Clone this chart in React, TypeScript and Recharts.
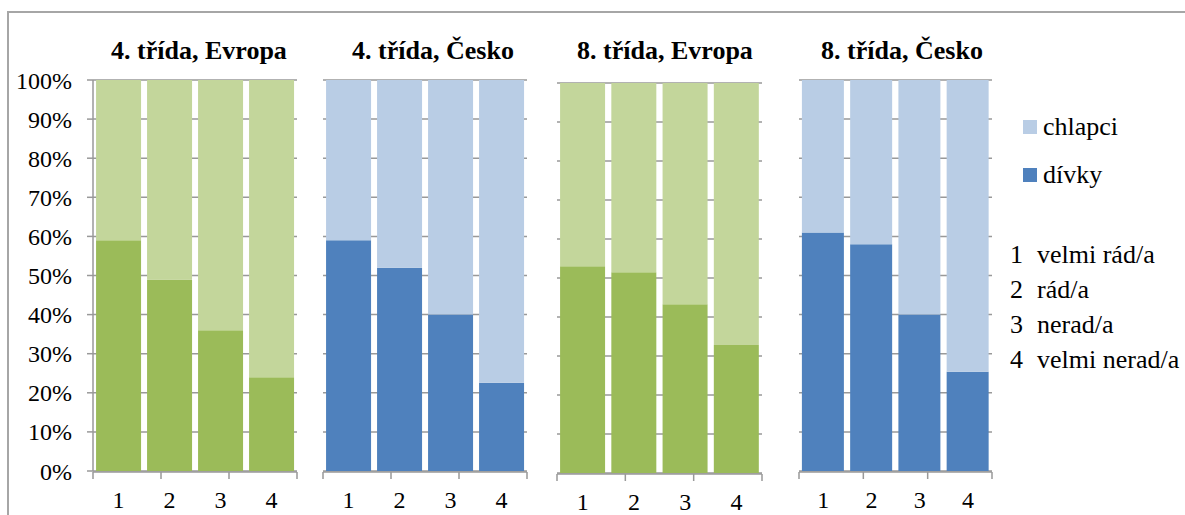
import React from 'react';
import { BarChart, Bar, XAxis, YAxis, CartesianGrid } from 'recharts';

const categories = ['1', '2', '3', '4'];
const divky4Evropa = [59, 49, 36, 24];
const chlapci4Evropa = [41, 51, 64, 76];
const divky4Cesko = [59, 52, 40, 22.6];
const chlapci4Cesko = [41, 48, 60, 77.4];
const divky8Evropa = [53, 51.5, 43.3, 32.8];
const chlapci8Evropa = [47, 48.5, 56.7, 67.2];
const divky8Cesko = [61, 58, 40, 25.4];
const chlapci8Cesko = [39, 42, 60, 74.6];
const yTicks = [0, 10, 20, 30, 40, 50, 60, 70, 80, 90, 100];
const boundaryTicks = [0, 1, 2, 3, 4];
const panelTitles = ['4. třída, Evropa', '4. třída, Česko', '8. třída, Evropa', '8. třída, Česko'];
const seriesNames = ['chlapci', 'dívky'];
const answerLabels = ['velmi rád/a', 'rád/a', 'nerad/a', 'velmi nerad/a'];

const FONT = 'Liberation Serif';
const GRID = '#999999';
const GREEN_DARK = '#9BBB59';
const GREEN_LIGHT = '#C3D69B';
const BLUE_DARK = '#4F81BD';
const BLUE_LIGHT = '#B9CDE5';

type PanelProps = {
  left: number;
  width: number;
  top: number;
  bottom: number;
  mLeft: number;
  mRight: number;
  showY: boolean;
  divky: number[];
  chlapci: number[];
  dark: string;
  light: string;
};

function Panel(p: PanelProps) {
  const data = categories.map((c, i) => ({ cat: c, divky: p.divky[i], chlapci: p.chlapci[i] }));
  return (
    <div style={{ position: 'absolute', left: p.left, top: 0 }}>
      <BarChart
        width={p.width}
        height={515}
        data={data}
        margin={{ top: p.top, right: p.mRight, left: p.mLeft, bottom: p.bottom }}
        barCategoryGap="6%"
      >
        <CartesianGrid horizontal vertical={false} stroke={GRID} strokeWidth={1.5} xAxisId="cat" />
        <XAxis
          xAxisId="num"
          type="number"
          domain={[0, 4]}
          allowDataOverflow
          ticks={boundaryTicks}
          interval={0}
          height={40}
          tickFormatter={() => ''}
          tickSize={7}
          axisLine={{ stroke: GRID, strokeWidth: 1.5 }}
          tickLine={{ stroke: GRID, strokeWidth: 1.5 }}
        />
        <XAxis
          xAxisId="cat"
          dataKey="cat"
          height={1}
          axisLine={false}
          tickLine={false}
          tickSize={6}
          tickMargin={14}
          interval={0}
          tick={{ fontSize: 24, fill: '#000', fontFamily: FONT }}
        />
        <YAxis
          hide={!p.showY}
          width={p.showY ? 93 : 0}
          domain={[0, 100]}
          ticks={yTicks}
          interval={0}
          tickFormatter={(v: number) => `${v}%`}
          tickSize={6}
          tickMargin={15}
          axisLine={{ stroke: GRID, strokeWidth: 1.5 }}
          tickLine={{ stroke: GRID, strokeWidth: 1.5 }}
          tick={{ fontSize: 24, fill: '#000', fontFamily: FONT }}
        />
        <Bar xAxisId="cat" dataKey="divky" stackId="a" fill={p.dark} isAnimationActive={false} />
        <Bar xAxisId="cat" dataKey="chlapci" stackId="a" fill={p.light} isAnimationActive={false} />
      </BarChart>
    </div>
  );
}

const titleStyle = (left: number, width: number): React.CSSProperties => ({
  position: 'absolute',
  left,
  width,
  top: 38,
  textAlign: 'center',
  fontFamily: FONT,
  fontWeight: 'bold',
  fontSize: 26,
  lineHeight: '26px',
  color: '#000',
  whiteSpace: 'nowrap',
});

const legendText: React.CSSProperties = {
  position: 'absolute',
  fontFamily: FONT,
  fontSize: 26,
  lineHeight: '26px',
  color: '#000',
  whiteSpace: 'nowrap',
};

export default function App() {
  return (
    <div style={{ position: 'absolute', left: 0, top: 0, width: 1185, height: 515, background: '#fff', overflow: 'hidden', fontFamily: FONT }}>
      <div style={{ position: 'absolute', left: 7, top: 11, width: 1200, height: 600, borderLeft: '2px solid #a6a6a6', borderTop: '2px solid #a6a6a6' }} />
      <Panel left={0} width={300} top={80} bottom={3} mLeft={0} mRight={3} showY divky={divky4Evropa} chlapci={chlapci4Evropa} dark={GREEN_DARK} light={GREEN_LIGHT} />
      <Panel left={313} width={224} top={80} bottom={3} mLeft={10} mRight={10} showY={false} divky={divky4Cesko} chlapci={chlapci4Cesko} dark={BLUE_DARK} light={BLUE_LIGHT} />
      <Panel left={547} width={225} top={83} bottom={1} mLeft={10} mRight={10} showY={false} divky={divky8Evropa} chlapci={chlapci8Evropa} dark={GREEN_DARK} light={GREEN_LIGHT} />
      <Panel left={789} width={213} top={80} bottom={3} mLeft={10} mRight={10} showY={false} divky={divky8Cesko} chlapci={chlapci8Cesko} dark={BLUE_DARK} light={BLUE_LIGHT} />

      <div style={titleStyle(99, 200)}>{panelTitles[0]}</div>
      <div style={titleStyle(333, 200)}>{panelTitles[1]}</div>
      <div style={titleStyle(565, 200)}>{panelTitles[2]}</div>
      <div style={titleStyle(802, 200)}>{panelTitles[3]}</div>

      <div style={{ position: 'absolute', left: 1023, top: 120, width: 14, height: 14, background: BLUE_LIGHT }} />
      <div style={{ ...legendText, left: 1043, top: 114 }}>{seriesNames[0]}</div>
      <div style={{ position: 'absolute', left: 1023, top: 168, width: 14, height: 14, background: BLUE_DARK }} />
      <div style={{ ...legendText, left: 1043, top: 162 }}>{seriesNames[1]}</div>

      {answerLabels.map((lab, i) => (
        <React.Fragment key={lab}>
          <div style={{ ...legendText, left: 1010, top: 242 + i * 35 }}>{categories[i]}</div>
          <div style={{ ...legendText, left: 1037, top: 242 + i * 35 }}>{lab}</div>
        </React.Fragment>
      ))}
    </div>
  );
}
